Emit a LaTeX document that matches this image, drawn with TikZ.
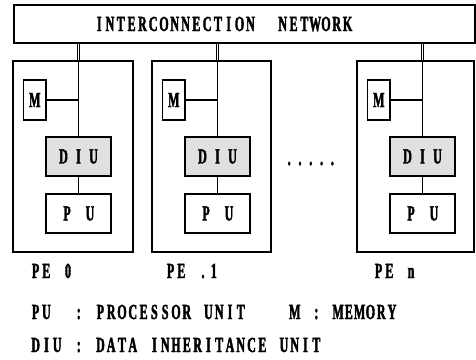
\documentclass[tikz,border=0pt]{standalone}
\usepackage{fontspec}
\newfontfamily\typ[FakeStretch=0.56,FakeBold=1.8]{Liberation Serif}
\newlength\cellw
\setlength\cellw{10.8pt}
\def\mono#1{\monoloop#1\relax}
\def\monoloop#1{\ifx#1\relax\else\hbox to\cellw{\hss#1\hss}\expandafter\monoloop\fi}
\begin{document}
\begin{tikzpicture}[x=1pt,y=-1pt,
  txt/.style={font=\typ\bfseries\fontsize{21.5}{21.5}\selectfont, inner sep=0pt},
  box/.style={draw, line width=1.4pt, inner sep=0pt},
  link/.style={line width=1.4pt},
  bus/.style={double, double distance=1.8pt, line width=0.7pt}]
\useasboundingbox (0,0) rectangle (476,359);
\node[box, line width=1.2pt, minimum width=461, minimum height=38] (net) at (244.5,24) {};
\node[txt, anchor=base west] (nettext) at (93.6,31) {\mono{INTERCONNECTION~~NETWORK}};
\foreach \n/\x/\w/\lx/\lab in {0/13/120/30/{PE~0}, 1/152/119/165/{PE~.1}, n/357/117/373/{PE~n}} {
  \node[box, minimum width=\w, minimum height=191] (pe\n) at ({\x+\w/2},156.5) {};
  \node[box, txt, minimum width=22.5, minimum height=40] (m\n) at ({\x+21.75},100) {M};
  \node[box, txt, fill=black!12, minimum width=65, minimum height=39] (diu\n) at ({\x+65.5},156.5) {\setlength\cellw{15pt}\mono{DIU}};
  \node[box, txt, minimum width=65, minimum height=39] (pu\n) at ({\x+65.5},213.5) {\setlength\cellw{11.5pt}\mono{P~U}};
  \draw[link] (diu\n.north) -- (diu\n.north |- pe\n.north);
  \draw[link] (m\n.east) -- (m\n.east -| diu\n.north);
  \draw[link] (diu\n.south) -- (pu\n.north);
  \draw[bus] (diu\n.north |- net.south) -- (diu\n.north |- pe\n.north);
  \node[txt, anchor=base west] (lab\n) at (\lx,278) {\expandafter\mono\expandafter{\lab}};
}
\node[txt, anchor=base west] (dots) at (283.6,165) {\mono{.....}};
\node[txt, anchor=base west] (leg1) at (30,319) {\mono{PU~~:~PROCESSOR~UNIT~~~~M~:~MEMORY}};
\node[txt, anchor=base west] (leg2) at (30,352) {\mono{DIU~:~DATA~INHERITANCE~UNIT}};
\end{tikzpicture}
\end{document}
